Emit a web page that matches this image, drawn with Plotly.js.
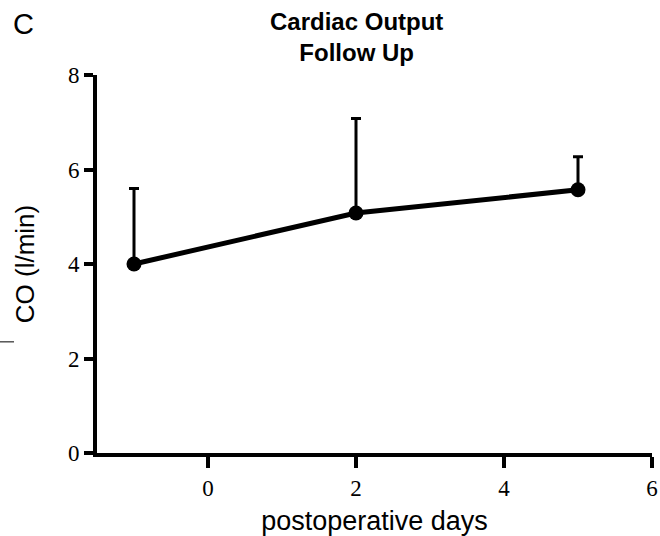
<!DOCTYPE html>
<html>
<head>
<meta charset="utf-8">
<script src="https://cdn.plot.ly/plotly-3.0.1.min.js"></script>
<style>html,body{margin:0;padding:0;background:#fff;}#chart{width:660px;height:536px;}</style>
</head>
<body>
<div id="chart"></div>
<script>
const days = [-1, 2, 5];
const coMean = [4.0, 5.08, 5.57];
const coErrUp = [1.6, 2.0, 0.7];
const coErrDown = [0, 0, 0];
const xTicks = [0, 2, 4, 6];
const yTicks = [0, 2, 4, 6, 8];

const trace = {
  x: days, y: coMean, type: 'scatter', mode: 'lines+markers',
  line: {color: '#000', width: 5},
  marker: {color: '#000', size: 15},
  error_y: {type: 'data', symmetric: false, array: coErrUp, arrayminus: coErrDown,
            color: '#000', thickness: 3, width: 5},
  showlegend: false, cliponaxis: false
};

const serif = {family: 'Liberation Serif', size: 23, color: '#000'};
const sansFam = 'Liberation Sans';

const layout = {
  width: 660, height: 536,
  margin: {l: 97, r: 8, t: 75, b: 83},
  paper_bgcolor: '#fff', plot_bgcolor: '#fff',
  xaxis: {range: [-1.5, 6], tickvals: xTicks, ticktext: xTicks.map(String),
          showgrid: false, zeroline: false, showline: true, linecolor: '#000', linewidth: 4,
          ticks: 'outside', ticklen: 11, tickwidth: 4, tickcolor: '#000',
          tickfont: serif,
          title: {text: 'postoperative days', font: {family: sansFam, size: 27, color: '#000'}, standoff: 14}},
  yaxis: {range: [0, 8], tickvals: yTicks, ticktext: yTicks.map(String),
          showgrid: false, zeroline: false, showline: true, linecolor: '#000', linewidth: 4,
          ticks: 'outside', ticklen: 9, tickwidth: 4, tickcolor: '#000',
          tickfont: serif,
          title: {text: 'CO (l/min)', font: {family: sansFam, size: 26, color: '#000'}, standoff: 27}},
  annotations: [
    {text: '<b>Cardiac Output<br>Follow Up</b>', xref: 'paper', yref: 'paper', x: 0.467, y: 1.10,
     xanchor: 'center', yanchor: 'middle', showarrow: false,
     font: {family: sansFam, size: 24, color: '#000'}},
    {text: 'C', xref: 'paper', yref: 'paper', x: -0.155, y: 1.135, xanchor: 'left', yanchor: 'middle',
     showarrow: false, font: {family: sansFam, size: 29, color: '#000'}}],
  shapes: [{type: 'line', xref: 'paper', yref: 'paper', x0: -0.175, x1: -0.1495, y0: 0.294, y1: 0.294,
            line: {color: '#000', width: 1}}]
};

Plotly.newPlot('chart', [trace], layout, {displayModeBar: false, staticPlot: true});
</script>
</body>
</html>
